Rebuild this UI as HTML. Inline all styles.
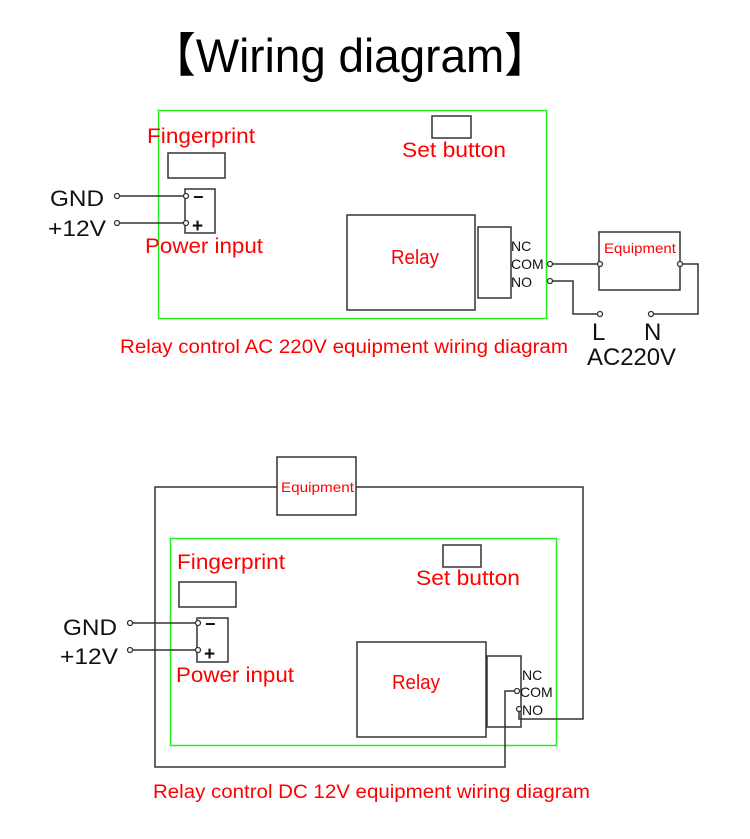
<!DOCTYPE html>
<html><head><style>
body{margin:0;background:#fff;}
svg text{font-family:"Liberation Sans",sans-serif;}
.r{fill:#f00;}
</style></head><body>
<svg width="750" height="834" viewBox="0 0 750 834" xmlns="http://www.w3.org/2000/svg">
<text x="150" y="72" font-size="47" textLength="400" lengthAdjust="spacingAndGlyphs" fill="#000">【Wiring diagram】</text>
<g fill="none" stroke="#333" stroke-width="1.5">
<rect x="158.5" y="110.5" width="388" height="208" stroke="#2e2" stroke-width="1.5"/>
<rect x="168" y="153" width="57" height="25"/>
<rect x="185" y="189" width="30" height="44"/>
<line x1="119" y1="196" x2="185" y2="196"/>
<line x1="119" y1="223" x2="185" y2="223"/>
<rect x="432" y="116" width="39" height="22"/>
<rect x="347" y="215" width="128" height="95"/>
<rect x="478" y="227" width="33" height="71"/>
<rect x="599" y="232" width="81" height="58"/>
<polyline points="552,264 599,264"/>
<polyline points="682,264 698,264 698,314 653,314"/>
<polyline points="552,281 573,281 573,314 598,314"/>
<rect x="170.5" y="538.5" width="386" height="207" stroke="#2e2" stroke-width="1.5"/>
<rect x="179" y="582" width="57" height="25"/>
<rect x="197" y="618" width="31" height="44"/>
<line x1="132" y1="623" x2="197" y2="623"/>
<line x1="132" y1="650" x2="197" y2="650"/>
<rect x="443" y="545" width="38" height="22"/>
<rect x="357" y="642" width="129" height="95"/>
<rect x="487" y="656" width="34" height="71"/>
<rect x="277" y="457" width="79" height="58"/>
<polyline points="514,691 505,691 505,767 155,767 155,487 277,487"/>
<polyline points="519,711 519,719 583,719 583,487 356,487"/>
</g>
<g fill="#fff" stroke="#333" stroke-width="1.3">
<circle cx="117" cy="196" r="2.5"/><circle cx="117" cy="223" r="2.5"/>
<circle cx="186" cy="196" r="2.5"/><circle cx="186" cy="223" r="2.5"/>
<circle cx="550" cy="264" r="2.5"/><circle cx="550" cy="281" r="2.5"/>
<circle cx="600" cy="264" r="2.5"/><circle cx="680" cy="264" r="2.5"/>
<circle cx="600" cy="314" r="2.5"/><circle cx="651" cy="314" r="2.5"/>
<circle cx="130" cy="623" r="2.5"/><circle cx="130" cy="650" r="2.5"/>
<circle cx="198" cy="623" r="2.5"/><circle cx="198" cy="650" r="2.5"/>
<circle cx="517" cy="691" r="2.5"/><circle cx="519" cy="709" r="2.5"/>
</g>
<g fill="#111">
<text x="50" y="206" font-size="22" textLength="54" lengthAdjust="spacingAndGlyphs">GND</text>
<text x="48" y="236" font-size="22" textLength="58" lengthAdjust="spacingAndGlyphs">+12V</text>
<text x="193" y="203" font-size="18" font-weight="bold">−</text>
<text x="192" y="232" font-size="19" font-weight="bold">+</text>
<text x="511" y="251" font-size="14">NC</text>
<text x="511" y="269" font-size="14">COM</text>
<text x="511" y="287" font-size="14">NO</text>
<text x="592" y="340" font-size="24">L</text>
<text x="644" y="340" font-size="24">N</text>
<text x="587" y="365" font-size="24" textLength="89" lengthAdjust="spacingAndGlyphs">AC220V</text>
<text x="63" y="635" font-size="22" textLength="54" lengthAdjust="spacingAndGlyphs">GND</text>
<text x="60" y="664" font-size="22" textLength="58" lengthAdjust="spacingAndGlyphs">+12V</text>
<text x="205" y="630" font-size="18" font-weight="bold">−</text>
<text x="204" y="660" font-size="19" font-weight="bold">+</text>
<text x="522" y="680" font-size="14">NC</text>
<text x="520" y="697" font-size="14">COM</text>
<text x="522" y="715" font-size="14">NO</text>
</g>
<g class="r">
<text x="147" y="143" font-size="21" textLength="108" lengthAdjust="spacingAndGlyphs">Fingerprint</text>
<text x="145" y="253" font-size="21" textLength="118" lengthAdjust="spacingAndGlyphs">Power input</text>
<text x="402" y="157" font-size="21" textLength="104" lengthAdjust="spacingAndGlyphs">Set button</text>
<text x="391" y="264" font-size="20" textLength="48" lengthAdjust="spacingAndGlyphs">Relay</text>
<text x="604" y="253" font-size="14" textLength="72" lengthAdjust="spacingAndGlyphs">Equipment</text>
<text x="120" y="353" font-size="19" textLength="448" lengthAdjust="spacingAndGlyphs">Relay control AC 220V equipment wiring diagram</text>
<text x="177" y="569" font-size="21" textLength="108" lengthAdjust="spacingAndGlyphs">Fingerprint</text>
<text x="176" y="682" font-size="21" textLength="118" lengthAdjust="spacingAndGlyphs">Power input</text>
<text x="416" y="585" font-size="21" textLength="104" lengthAdjust="spacingAndGlyphs">Set button</text>
<text x="392" y="689" font-size="20" textLength="48" lengthAdjust="spacingAndGlyphs">Relay</text>
<text x="281" y="492" font-size="14" textLength="73" lengthAdjust="spacingAndGlyphs">Equipment</text>
<text x="153" y="798" font-size="19" textLength="437" lengthAdjust="spacingAndGlyphs">Relay control DC 12V equipment wiring diagram</text>
</g>
</svg>
</body></html>
